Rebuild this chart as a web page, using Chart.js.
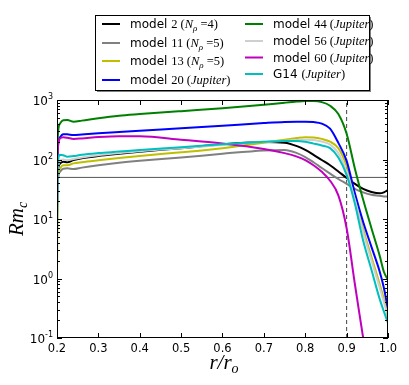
<!DOCTYPE html>
<html>
<head>
<meta charset="utf-8">
<script src="https://cdn.jsdelivr.net/npm/chart.js@4.4.0/dist/chart.umd.min.js"></script>
<style>
html, body { margin: 0; padding: 0; background: #fff; }
</style>
</head>
<body>
<canvas id="rmc" width="409" height="385"></canvas>
<script>
// radius r/r_o
const radius = [0.2, 0.202, 0.207, 0.215, 0.225, 0.24, 0.26, 0.3, 0.35, 0.4, 0.5, 0.6, 0.7, 0.75, 0.78, 0.8, 0.82, 0.84, 0.86, 0.88, 0.9, 0.92, 0.94, 0.96, 0.98, 0.99, 1.0];

const model2  = [10, 55, 85, 92, 90, 98, 105, 115, 125, 135, 155, 180, 197, 192, 168, 145, 120, 98, 80, 63, 49, 39, 32, 28.5, 27, 28, 31];
const model11 = [12, 45, 62, 70, 71, 69, 73, 80, 88, 95, 108, 125, 142, 145, 128, 110, 90, 72, 58, 47, 39, 32, 28, 25.5, 24.5, 24, 24];
const model13 = [1.2, 40, 70, 80, 80, 86, 90, 97, 106, 115, 132, 155, 192, 215, 230, 237, 235, 222, 199, 155, 78, 24, 6.8, 2.3, 0.8, 0.45, 0.22];
const model20 = [15, 150, 235, 266, 265, 258, 264, 276, 290, 305, 335, 370, 410, 428, 432, 432, 425, 400, 330, 190, 95, 27, 8.9, 3.4, 1.3, 0.7, 0.3];
const model44 = [30, 250, 400, 455, 460, 432, 450, 495, 545, 580, 650, 725, 830, 900, 940, 960, 960, 920, 800, 580, 270, 70, 21, 7, 2.4, 1.3, 0.95];
const model56 = [8, 60, 95, 100, 97, 102, 108, 118, 128, 138, 155, 175, 198, 207, 213, 215, 212, 200, 178, 128, 62, 21, 6, 2.0, 0.7, 0.4, 0.24];
const model60 = [20, 150, 225, 236, 232, 222, 226, 238, 246, 245, 215, 185, 150, 128, 112, 98, 80, 62, 44, 25, 7, 0.8, 0.1, 0.012, null, null, null];
const g14     = [5, 80, 120, 118, 111, 114, 120, 128, 136, 145, 160, 180, 198, 205, 205, 198, 185, 172, 155, 108, 55, 18, 4.3, 1.4, 0.45, 0.28, 0.18];

const critRm = 50;       // horizontal reference line
const rDashed = 0.9;     // vertical dashed line
const xTicks = [0.2, 0.3, 0.4, 0.5, 0.6, 0.7, 0.8, 0.9, 1.0];
const yDecades = [-1, 0, 1, 2, 3];

const series = [model2, model11, model13, model20, model44, model56, model60, g14];
const colors = ["#000000", "#808080", "#bfbf00", "#0000ff", "#008000", "#cfcfcf", "#bf00bf", "#00bfbf"];
// s = sans, r = serif, i = serif italic, b = italic subscript
const legendLabels = [
	[["s", "model "], ["r", "2 ("], ["i", "N"], ["b", "ρ"], ["r", " =4)"]],
	[["s", "model "], ["r", "11 ("], ["i", "N"], ["b", "ρ"], ["r", " =5)"]],
	[["s", "model "], ["r", "13 ("], ["i", "N"], ["b", "ρ"], ["r", " =5)"]],
	[["s", "model "], ["r", "20 ("], ["i", "Jupiter"], ["r", ")"]],
	[["s", "model "], ["r", "44 ("], ["i", "Jupiter"], ["r", ")"]],
	[["s", "model "], ["r", "56 ("], ["i", "Jupiter"], ["r", ")"]],
	[["s", "model "], ["r", "60 ("], ["i", "Jupiter"], ["r", ")"]],
	[["s", "G14 "], ["r", "("], ["i", "Jupiter"], ["r", ")"]]
];

let datasets = series.map(function(vals, i){
	return {
		label: legendLabels[i].map(p => p[1]).join(""),
		data: radius.map((r, k) => ({x: r, y: vals[k]})),
		borderColor: colors[i],
		borderWidth: 2,
		pointRadius: 0,
		fill: false,
		cubicInterpolationMode: "monotone",
		order: series.length - i
	};
});
datasets.push({
	label: "crit",
	data: [{x: 0.2, y: critRm}, {x: 1.0, y: critRm}],
	borderColor: "#555555", borderWidth: 1, pointRadius: 0, order: 20
});
datasets.push({
	label: "dashed",
	data: [{x: rDashed, y: 0.1}, {x: rDashed, y: 1000}],
	borderColor: "#444444", borderWidth: 1, borderDash: [4, 3], pointRadius: 0, order: 21
});

const fonts = {
	s: "12px 'DejaVu Sans'",
	r: "12.5px 'Liberation Serif'",
	i: "italic 12.5px 'Liberation Serif'",
	b: "italic 9px 'Liberation Serif'"
};

function richText(ctx, parts, x, y){
	parts.forEach(function(p){
		ctx.font = fonts[p[0]];
		let dy = p[0] === "b" ? 3 : 0;
		ctx.fillText(p[1], x, y + dy);
		x += ctx.measureText(p[1]).width;
	});
}

const decor = {
	id: "decor",
	afterDatasetsDraw(chart){
		const ctx = chart.ctx, a = chart.chartArea, xs = chart.scales.x, ys = chart.scales.y;
		ctx.save();
		ctx.strokeStyle = "#000";
		ctx.lineWidth = 1;
		ctx.strokeRect(a.left + 0.5, a.top + 0.5, a.right - a.left - 1, a.bottom - a.top - 1);

		// x ticks, inward on bottom and top
		ctx.beginPath();
		xTicks.forEach(function(v){
			let px = Math.round(xs.getPixelForValue(v)) + 0.5;
			ctx.moveTo(px, a.bottom); ctx.lineTo(px, a.bottom - 5);
			ctx.moveTo(px, a.top); ctx.lineTo(px, a.top + 5);
		});
		// y ticks (log), major + minor
		yDecades.forEach(function(e){
			for (let k = 1; k <= 9; k++){
				let v = k * Math.pow(10, e);
				if (v > 1000.001) break;
				let py = Math.round(ys.getPixelForValue(v)) + 0.5;
				let len = k === 1 ? 5 : 3;
				ctx.moveTo(a.left, py); ctx.lineTo(a.left + len, py);
				ctx.moveTo(a.right, py); ctx.lineTo(a.right - len, py);
			}
		});
		ctx.stroke();

		ctx.fillStyle = "#000";
		ctx.font = "11.5px 'DejaVu Sans'";
		ctx.textAlign = "center";
		ctx.textBaseline = "alphabetic";
		xTicks.forEach(function(v){
			ctx.fillText(v.toFixed(1), xs.getPixelForValue(v), a.bottom + 14);
		});
		yDecades.forEach(function(e){
			let py = ys.getPixelForValue(Math.pow(10, e));
			ctx.textAlign = "right";
			ctx.font = "8px 'DejaVu Sans'";
			let ex = String(e);
			let w = ctx.measureText(ex).width;
			ctx.fillText(ex, a.left - 4, py - 1);
			ctx.font = "12px 'DejaVu Sans'";
			ctx.fillText("10", a.left - 4 - w, py + 5);
		});

		// axis titles
		ctx.textAlign = "left";
		ctx.font = "italic 21px 'Liberation Serif'";
		let t1 = "r/r", w1 = ctx.measureText(t1).width;
		let cx = (a.left + a.right) / 2 - 2;
		ctx.fillText(t1, cx - w1 / 2, 369);
		ctx.font = "italic 14px 'Liberation Serif'";
		ctx.fillText("o", cx + w1 / 2, 373);

		ctx.save();
		ctx.translate(23, (a.top + a.bottom) / 2);
		ctx.rotate(-Math.PI / 2);
		ctx.font = "italic 21px 'Liberation Serif'";
		let t2 = "Rm", w2 = ctx.measureText(t2).width;
		ctx.fillText(t2, -w2 / 2 - 3, 0);
		ctx.font = "italic 14px 'Liberation Serif'";
		ctx.fillText("c", w2 / 2 - 3, 4);
		ctx.restore();

		// legend
		ctx.fillStyle = "rgba(0,0,0,0.5)";
		ctx.fillRect(97, 17, 274, 75);
		ctx.fillStyle = "#fff";
		ctx.fillRect(95, 15, 274, 75);
		ctx.strokeStyle = "#000";
		ctx.strokeRect(95.5, 15.5, 274, 75);
		const rowsL = [24, 43, 61, 80];
		const rowsR = [24, 41, 57.5, 74];
		legendLabels.forEach(function(parts, i){
			let col = i < 4 ? 0 : 1;
			let yy = col === 0 ? rowsL[i] : rowsR[i - 4];
			let x0 = col === 0 ? 102 : 245;
			ctx.strokeStyle = colors[i];
			ctx.lineWidth = 2;
			ctx.beginPath();
			ctx.moveTo(x0, yy); ctx.lineTo(x0 + 18, yy);
			ctx.stroke();
			ctx.fillStyle = "#000";
			ctx.textAlign = "left";
			richText(ctx, parts, x0 + 28, yy + 4);
		});
		ctx.restore();
	}
};

new Chart("rmc", {
	type: "line",
	data: { datasets: datasets },
	options: {
		responsive: false,
		animation: false,
		devicePixelRatio: 1,
		layout: { padding: { left: 57, right: 21, top: 100, bottom: 47 } },
		plugins: { legend: { display: false }, tooltip: { enabled: false } },
		scales: {
			x: { type: "linear", min: 0.2, max: 1.0, display: false },
			y: { type: "logarithmic", min: 0.1, max: 1000, display: false }
		}
	},
	plugins: [decor]
});
</script>
</body>
</html>
